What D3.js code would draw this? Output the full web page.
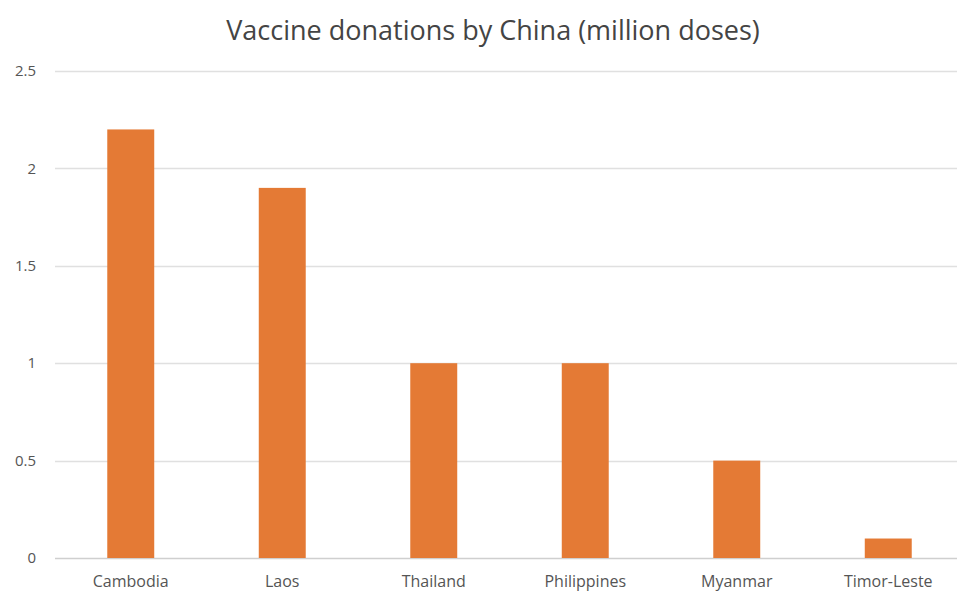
<!DOCTYPE html>
<html>
<head>
<meta charset="utf-8">
<script src="https://cdn.jsdelivr.net/npm/d3@7"></script>
<style>
  body { margin: 0; background: #fff; }
  text { font-family: "Open Sans", "Noto Sans", sans-serif; }
</style>
</head>
<body>
<svg id="chart" width="957" height="593"></svg>
<script>
var countries = ["Cambodia", "Laos", "Thailand", "Philippines", "Myanmar", "Timor-Leste"];
var doses = [2.2, 1.9, 1.0, 1.0, 0.5, 0.1];
var yTicks = [0, 0.5, 1, 1.5, 2, 2.5];
var title = "Vaccine donations by China (million doses)";

var svg = d3.select("#chart");

var x = d3.scaleBand()
  .domain(countries)
  .range([55, 964])
  .paddingInner(0.69)
  .paddingOuter(0.345);

var y = d3.scaleLinear()
  .domain([0, 2.5])
  .range([558, 71]);

// gridlines
svg.selectAll("line.grid")
  .data(yTicks)
  .enter()
  .append("line")
  .attr("class", "grid")
  .attr("x1", 55)
  .attr("x2", 957)
  .attr("y1", function(d) { return Math.round(y(d)) + 0.5; })
  .attr("y2", function(d) { return Math.round(y(d)) + 0.5; })
  .style("stroke", function(d) { return d === 0 ? "#cfcfcf" : "#e0e0e0"; })
  .style("stroke-width", 1.5);

// y labels
svg.selectAll("text.ytick")
  .data(yTicks)
  .enter()
  .append("text")
  .attr("class", "ytick")
  .attr("x", 36)
  .attr("y", function(d) { return y(d); })
  .attr("dy", "0.35em")
  .attr("text-anchor", "end")
  .style("font-size", "15px")
  .style("fill", "#555")
  .text(function(d) { return d; });

// bars
svg.selectAll("rect.bar")
  .data(doses)
  .enter()
  .append("rect")
  .attr("class", "bar")
  .attr("x", function(d, i) { return x(countries[i]); })
  .attr("width", x.bandwidth())
  .attr("y", function(d) { return y(d); })
  .attr("height", function(d) { return y(0) - y(d); })
  .style("fill", "#e47a35");

// category labels
svg.selectAll("text.xlab")
  .data(countries)
  .enter()
  .append("text")
  .attr("class", "xlab")
  .attr("x", function(d) { return x(d) + x.bandwidth() / 2; })
  .attr("y", 587)
  .attr("text-anchor", "middle")
  .style("font-size", "16px")
  .style("fill", "#555")
  .text(function(d) { return d; });

svg.append("text")
  .attr("x", 493)
  .attr("y", 40)
  .attr("text-anchor", "middle")
  .style("font-size", "27px")
  .style("fill", "#444")
  .text(title);
</script>
</body>
</html>
